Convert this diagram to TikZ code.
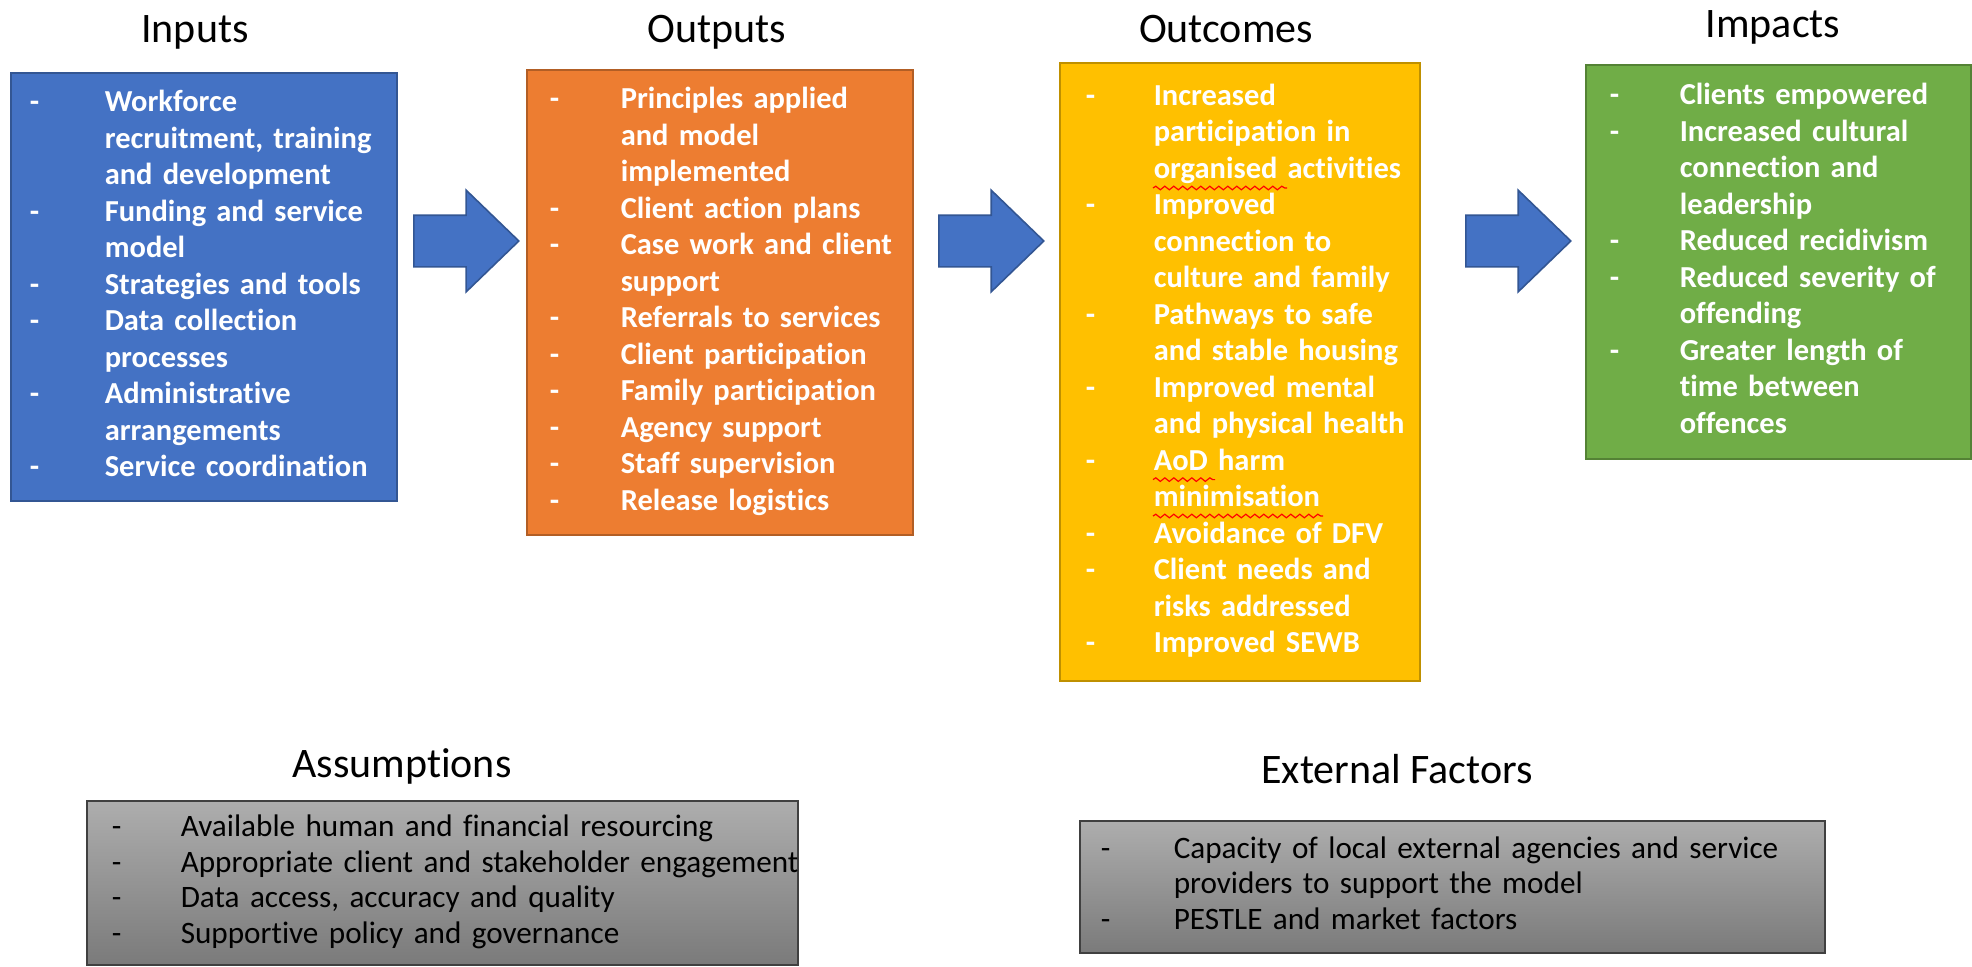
\documentclass[tikz,border=0pt]{standalone}
\usepackage{fontspec}
\setmainfont{Carlito}[Ligatures=NoCommon]
\usepackage{tikz}
\usetikzlibrary{shapes.arrows,decorations.pathmorphing}

\definecolor{inblue}{HTML}{4472C4}
\definecolor{outorange}{HTML}{ED7D31}
\definecolor{ocgold}{HTML}{FFC000}
\definecolor{impgreen}{HTML}{70AD47}

\newcommand{\dashlist}[2][11pt]{\begin{tabular}{@{\hspace{#1}}p{\dimexpr47pt-#1\relax}@{}l@{}}#2\end{tabular}}

\begin{document}
\begin{tikzpicture}[x=0.5pt, y=-0.5pt,
    heading/.style={font=\fontsize{21}{25}\selectfont, inner sep=0pt, anchor=base},
    stagebox/.style={rectangle, fill=#1, draw=#1!75!black, line width=0.8pt,
        anchor=north west, inner sep=0pt, align=left, text=white,
        font=\bfseries\fontsize{15.25}{18.25}\selectfont},
    notebox/.style={rectangle, top color=black!32, bottom color=black!52,
        draw=black!75, line width=0.8pt, anchor=north west, inner sep=0pt,
        align=left, font=\fontsize{15.6}{17.85}\selectfont},
    flowarrow/.style={single arrow, fill=inblue, draw=inblue!75!black,
        line width=0.8pt, inner xsep=0pt, inner ysep=12.5pt, anchor=tail,
        minimum height=52.5pt, minimum width=50pt,
        single arrow head extend=12.5pt, single arrow tip angle=88},
    spellwave/.style={draw=red, line width=0.6pt, decorate,
        decoration={snake, amplitude=0.9pt, segment length=4.5pt}}]

    \useasboundingbox (0,0) rectangle (1972,966);

    % headings
    \node[heading] (tin)  at (195,42)  {Inputs};
    \node[heading] (tout) at (717,42)  {Outputs};
    \node[heading] (toc)  at (1226,42) {Outcomes};
    \node[heading] (timp) at (1773,37) {Impacts};
    \node[heading] (tass) at (402,777) {Assumptions};
    \node[heading] (text) at (1397,783) {External Factors};

    % the four stages
    \node[stagebox=inblue, text width=193pt, minimum height=214pt] (inputs) at (10,72) {\dashlist[9.5pt]{
        - & Workforce\\
          & recruitment, training\\
          & and development\\
        - & Funding and service\\
          & model\\
        - & Strategies and tools\\
        - & Data collection\\
          & processes\\
        - & Administrative\\
          & arrangements\\
        - & Service coordination}};

    \node[stagebox=outorange, text width=193pt, minimum height=232.5pt] (outputs) at (526,69) {\dashlist[11.5pt]{
        - & Principles applied\\
          & and model\\
          & implemented\\
        - & Client action plans\\
        - & Case work and client\\
          & support\\
        - & Referrals to services\\
        - & Client participation\\
        - & Family participation\\
        - & Agency support\\
        - & Staff supervision\\
        - & Release logistics}};

    \node[stagebox=ocgold, text width=180pt, minimum height=309pt] (outcomes) at (1059,62) {\dashlist[13pt]{
        - & Increased\\
          & participation in\\
          & organised activities\\
        - & Improved\\
          & connection to\\
          & culture and family\\
        - & Pathways to safe\\
          & and stable housing\\
        - & Improved mental\\
          & and physical health\\
        - & AoD harm\\
          & minimisation\\
        - & Avoidance of DFV\\
        - & Client needs and\\
          & risks addressed\\
        - & Improved SEWB}};

    \node[stagebox=impgreen, text width=192.5pt, minimum height=197pt] (impacts) at (1585,64) {\dashlist[12pt]{
        - & Clients empowered\\
        - & Increased cultural\\
          & connection and\\
          & leadership\\
        - & Reduced recidivism\\
        - & Reduced severity of\\
          & offending\\
        - & Greater length of\\
          & time between\\
          & offences}};

    % spell-check marks
    \draw[spellwave] ([shift={(47pt,-63pt)}]outcomes.north west) -- ++(67pt,0);
    \draw[spellwave] ([shift={(47pt,-208.8pt)}]outcomes.north west) -- ++(31pt,0);
    \draw[spellwave] ([shift={(47pt,-227pt)}]outcomes.north west) -- ++(85pt,0);

    % block arrows between the stages
    \node[flowarrow] (a1) at (413,241) {};
    \node[flowarrow] (a2) at (938,241) {};
    \node[flowarrow] (a3) at (1465,241) {};

    % assumptions and external factors
    \node[notebox, text width=355.5pt, minimum height=82pt] (assume) at (86,800) {\dashlist[12.5pt]{
        - & Available human and financial resourcing\\
        - & Appropriate client and stakeholder engagement\\
        - & Data access, accuracy and quality\\
        - & Supportive policy and governance}};

    \node[notebox, text width=372.5pt, minimum height=66pt] (extern) at (1079,820) {\dashlist[10.5pt]{
        - & Capacity of local external agencies and service\\
          & providers to support the model\\
        - & PESTLE and market factors}};
\end{tikzpicture}
\end{document}
